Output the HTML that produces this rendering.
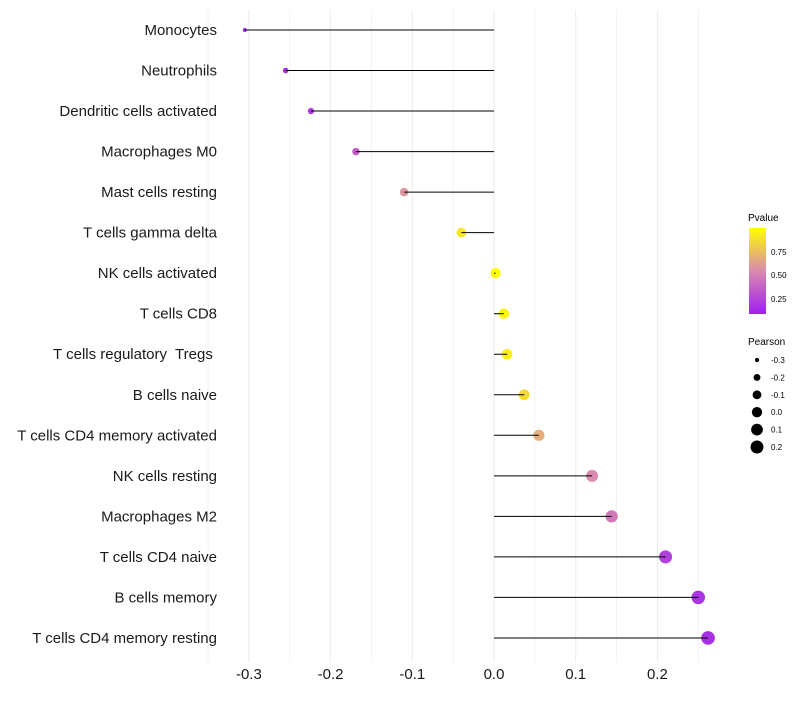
<!DOCTYPE html>
<html><head><meta charset="utf-8"><style>
body{margin:0;background:#fff;font-family:"Liberation Sans",sans-serif}
svg text{font-family:"Liberation Sans",sans-serif;white-space:pre}
</style></head><body>
<svg id="c" width="800" height="700" xmlns="http://www.w3.org/2000/svg">
<defs><linearGradient id="pg" x1="0" y1="1" x2="0" y2="0">
<stop offset="0" stop-color="#A020F0"/><stop offset="0.5" stop-color="#D98AAE"/><stop offset="1" stop-color="#FFFF00"/></linearGradient></defs>
<g id="grid"></g><g id="marks"></g><g id="stems"></g><g id="axes"></g>
<g id="legend">
<text x="748" y="221" font-size="10">Pvalue</text>
<rect x="749" y="228" width="17" height="86" fill="url(#pg)"/>
<text x="771" y="255" font-size="8">0.75</text>
<text x="771" y="278" font-size="8">0.50</text>
<text x="771" y="302" font-size="8">0.25</text>
<text x="748" y="345" font-size="10">Pearson</text>
</g>
</svg>
<script>
const categories=["Monocytes","Neutrophils","Dendritic cells activated","Macrophages M0","Mast cells resting","T cells gamma delta","NK cells activated","T cells CD8","T cells regulatory  Tregs ","B cells naive","T cells CD4 memory activated","NK cells resting","Macrophages M2","T cells CD4 naive","B cells memory","T cells CD4 memory resting"];
const pearson=[-0.305,-0.255,-0.224,-0.169,-0.110,-0.040,0.002,0.012,0.016,0.037,0.055,0.120,0.144,0.210,0.250,0.262];
const pvalue=[0.03,0.06,0.12,0.30,0.55,0.90,1.0,0.96,0.93,0.85,0.65,0.50,0.42,0.15,0.10,0.08];
const xTicks=[-0.3,-0.2,-0.1,0.0,0.1,0.2];
const xTickLabels=["-0.3","-0.2","-0.1","0.0","0.1","0.2"];
const sizeLegend=[-0.3,-0.2,-0.1,0.0,0.1,0.2];
const sizeLegendLabels=["-0.3","-0.2","-0.1","0.0","0.1","0.2"];
const NS="http://www.w3.org/2000/svg";
const X=v=>494+v*817;
const Y=i=>30+i*40.53;
const R=v=>Math.sqrt(Math.max(0,4+(v+0.305)*75));
function col(p){const s=[[160,32,240],[217,138,174],[255,255,0]];let t=Math.max(0,Math.min(1,p));let a,b,u;if(t<0.5){a=s[0];b=s[1];u=t/0.5}else{a=s[1];b=s[2];u=(t-0.5)/0.5}return`rgb(${a.map((c,k)=>Math.round(c+(b[k]-c)*u)).join(',')})`}
function mk(tag,at,parent){const e=document.createElementNS(NS,tag);for(const k in at)e.setAttribute(k,at[k]);parent.appendChild(e);return e}
const grid=document.getElementById('grid'),marks=document.getElementById('marks'),stems=document.getElementById('stems'),axes=document.getElementById('axes'),leg=document.getElementById('legend');
for(let v=-0.35;v<=0.251;v+=0.05){const e=mk('line',{x1:X(v),x2:X(v),y1:10,y2:662,stroke:'#ebebeb','stroke-width':Math.abs(Math.round(v*100)%10)<1?1:0.6},grid);

}
categories.forEach((c,i)=>{
const t=mk('text',{x:217,y:Y(i)+5,'text-anchor':'end','font-size':15,fill:'#1a1a1a'},axes);t.textContent=c;


const d=mk('circle',{cx:X(pearson[i]),cy:Y(i),r:R(pearson[i]),fill:col(pvalue[i])},marks);


const l=mk('line',{x1:X(0),x2:X(pearson[i]),y1:Y(i),y2:Y(i),stroke:'#000','stroke-width':1},stems);


});
xTicks.forEach((v,i)=>{const t=mk('text',{x:X(v),y:679,'text-anchor':'middle','font-size':15,fill:'#1a1a1a'},axes);t.textContent=xTickLabels[i];

});
sizeLegend.forEach((v,i)=>{const y=360+i*17.4;
const c=mk('circle',{cx:757,cy:y,r:R(v),fill:'#000'},leg);


const t=mk('text',{x:771,y:y+3,'font-size':8},leg);t.textContent=sizeLegendLabels[i];

});
</script>
</body></html>
